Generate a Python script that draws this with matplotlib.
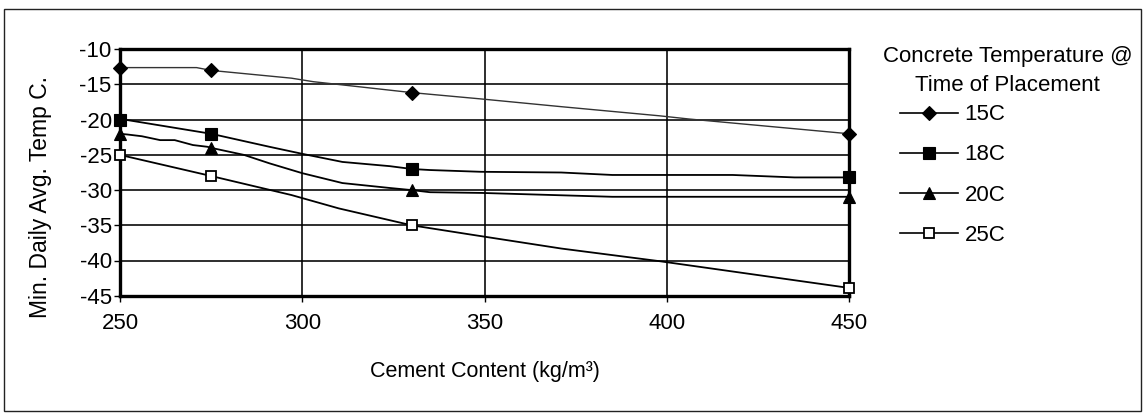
import matplotlib
matplotlib.use("Agg")
import matplotlib.pyplot as plt
from matplotlib.lines import Line2D
from matplotlib.patches import Rectangle

plt.rcParams['font.family'] = ['Liberation Sans', 'DejaVu Sans']
plt.rcParams['axes.unicode_minus'] = False

# Cement content where the design points were evaluated
marker_x = [250, 275, 330, 450]

# Design points (minimum daily average temperature, deg C)
t15_pts = [-12.6, -13.0, -16.15, -22.0]
t18_pts = [-20.0, -22.0, -27.0, -28.2]
t20_pts = [-22.0, -24.0, -30.0, -31.0]
t25_pts = [-25.0, -28.0, -35.0, -43.9]

# Traced curves between the design points
t15_x = [250, 271, 275, 297, 303, 330, 349, 371, 398, 406, 450]
t15_y = [-12.6, -12.6, -13.0, -14.1, -14.6, -16.15, -17.05, -18.15, -19.45, -19.9, -22.0]

t18_x = [250, 252, 275, 291, 300, 311, 324, 330, 335, 349, 371, 385, 418, 435, 450]
t18_y = [-20.0, -20.05, -22.0, -23.85, -24.85, -26.0, -26.6, -27.0, -27.15, -27.4,
         -27.5, -27.85, -27.85, -28.2, -28.2]

t20_x = [250, 252, 256, 261, 265, 270, 274, 275, 284, 291, 300, 311, 324, 330, 335,
         349, 385, 450]
t20_y = [-22.0, -22.1, -22.35, -22.9, -22.9, -23.6, -23.85, -24.0, -25.0, -26.2,
         -27.6, -29.0, -29.7, -30.0, -30.3, -30.4, -30.95, -30.95]

t25_x = [250, 275, 297, 310, 330, 346, 371, 398, 450]
t25_y = [-25.0, -28.0, -30.7, -32.6, -35.0, -36.3, -38.3, -40.1, -43.9]

series_labels = ['15C', '18C', '20C', '25C']
x_ticks = [250, 300, 350, 400, 450]
y_ticks = [-10, -15, -20, -25, -30, -35, -40, -45]

W, H = 1144, 413
fig = plt.figure(figsize=(W / 100, H / 100), dpi=100)


def fx(px):
    return px / W


def fy(py):
    return 1 - py / H


ax = fig.add_axes([fx(120), fy(295.7), fx(849.3) - fx(120), fy(49.3) - fy(295.7)])
ax.set_xlim(250, 450)
ax.set_ylim(-45, -10)
ax.set_xticks(x_ticks)
ax.set_yticks(y_ticks)
ax.grid(True, color='black', linewidth=1.15)
ax.set_axisbelow(True)
for s in ax.spines.values():
    s.set_linewidth(2.4)
    s.set_zorder(5)
ax.tick_params(axis='both', direction='out', width=1.0, labelsize=16, color='black')
ax.tick_params(axis='y', length=4.5, pad=1.5)
ax.tick_params(axis='x', length=4.0, pad=8.5)

styles = [
    dict(marker='D', markersize=7.2, mfc='black', mec='black', mew=0.8),
    dict(marker='s', markersize=8.8, mfc='black', mec='black', mew=0.8),
    dict(marker='^', markersize=9.0, mfc='black', mec='black', mew=0.8),
    dict(marker='s', markersize=7.8, mfc='white', mec='black', mew=1.3),
]
curves = [(t15_x, t15_y), (t18_x, t18_y), (t20_x, t20_y), (t25_x, t25_y)]
points = [t15_pts, t18_pts, t20_pts, t25_pts]
widths = [1.0, 1.3, 1.3, 1.3]
colors = ['#333333', 'black', 'black', 'black']

handles = []
for (cx, cy), pts, st, lw, c in zip(curves, points, styles, widths, colors):
    ax.plot(cx, cy, color=c, linewidth=lw, zorder=3, solid_joinstyle='round')
    ax.plot(marker_x, pts, linestyle='none', zorder=6, clip_on=False, **st)
    handles.append(Line2D([], [], color='black', linewidth=1.2, **st))

fig.text(fx(41), fy(197.5), 'Min. Daily Avg. Temp C.', rotation=90,
         ha='center', va='center', fontsize=16.5)
fig.text(fx(484.5), fy(377), 'Cement Content (kg/m\u00b3)',
         ha='center', va='baseline', fontsize=15.5)

fig.text(fx(1007.5), fy(62), 'Concrete Temperature @',
         ha='center', va='baseline', fontsize=16)
fig.text(fx(1007.5), fy(91), 'Time of Placement',
         ha='center', va='baseline', fontsize=16)

fig.legend(handles, series_labels, loc='center left',
           bbox_to_anchor=(fx(900), fy(175)), frameon=False,
           fontsize=16, handlelength=2.6, handletextpad=0.3,
           labelspacing=0.86, borderpad=0, borderaxespad=0)

fig.patches.append(Rectangle((fx(3.5), fy(411)), fx(1140.5) - fx(3.5), fy(8.5) - fy(411),
                             transform=fig.transFigure, fill=False,
                             edgecolor='#222222', linewidth=1.0))

fig.savefig('out.png', dpi=100)
